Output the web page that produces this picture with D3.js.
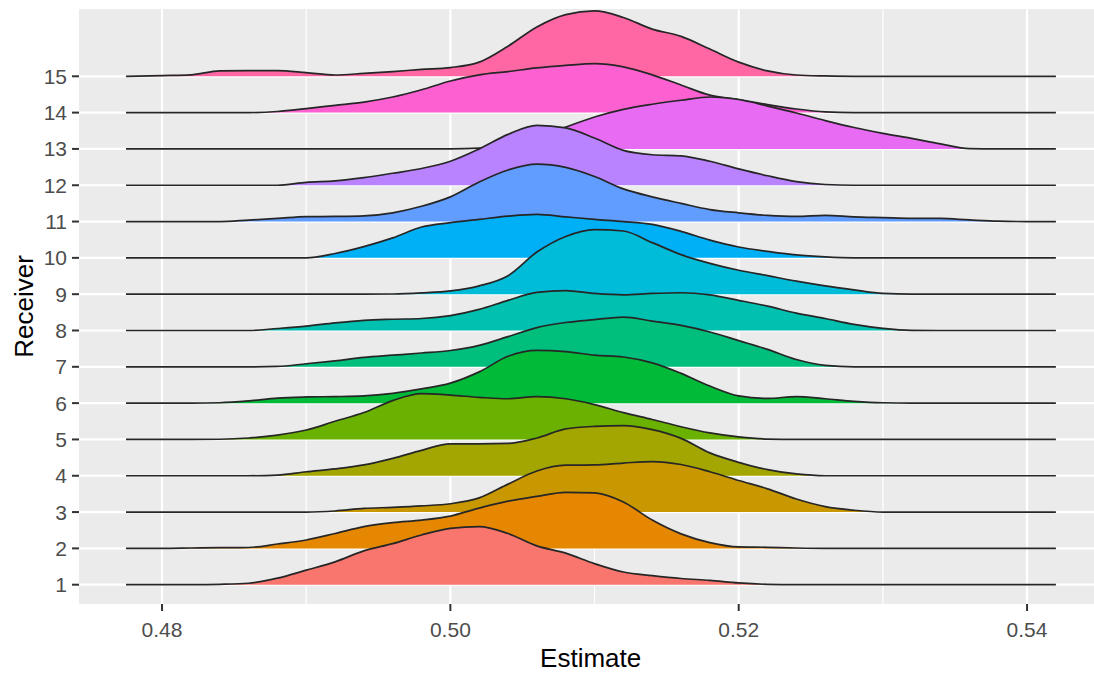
<!DOCTYPE html>
<html>
<head>
<meta charset="utf-8">
<script src="https://cdn.jsdelivr.net/npm/d3@7"></script>
<style>
  html, body { margin: 0; padding: 0; background: #ffffff; }
  svg { display: block; }
  text { font-family: "Liberation Sans", Arial, Helvetica, sans-serif; }
</style>
</head>
<body>
<svg id="chart" width="1094" height="674"></svg>
<script>
// Evaluation grid of the estimate (x) for every density ridge
const estimateGrid = [0.4775, 0.480, 0.482, 0.484, 0.486, 0.488, 0.490, 0.492, 0.494, 0.496, 0.498,
  0.500, 0.502, 0.504, 0.506, 0.508, 0.510, 0.512, 0.514, 0.516, 0.518, 0.520,
  0.522, 0.524, 0.526, 0.528, 0.530, 0.532, 0.534, 0.536, 0.538, 0.540, 0.542];

// Receiver categories (y axis, bottom to top)
const receivers = ["1", "2", "3", "4", "5", "6", "7", "8", "9", "10", "11", "12", "13", "14", "15"];

// Scaled density heights per receiver, one value per grid point
const density1  = [0, 0, 0, 0.01, 0.04, 0.18, 0.40, 0.63, 0.93, 1.13, 1.37, 1.55, 1.60, 1.41, 1.07, 0.87, 0.58, 0.35, 0.25, 0.17, 0.12, 0.05, 0.01, 0, 0, 0, 0, 0, 0, 0, 0, 0, 0];
const density2  = [0, 0, 0.01, 0.02, 0.025, 0.12, 0.23, 0.41, 0.60, 0.71, 0.78, 0.89, 1.11, 1.30, 1.43, 1.54, 1.53, 1.28, 0.78, 0.40, 0.16, 0.04, 0.03, 0.01, 0, 0, 0, 0, 0, 0, 0, 0, 0];
const density3  = [0, 0, 0, 0, 0, 0, 0, 0.03, 0.10, 0.13, 0.17, 0.23, 0.39, 0.77, 1.13, 1.29, 1.30, 1.35, 1.39, 1.31, 1.11, 0.87, 0.64, 0.36, 0.15, 0.05, 0, 0, 0, 0, 0, 0, 0];
const density4  = [0, 0, 0, 0, 0, 0.02, 0.11, 0.19, 0.30, 0.48, 0.70, 0.88, 0.88, 0.89, 1.04, 1.29, 1.36, 1.38, 1.27, 1.03, 0.63, 0.37, 0.17, 0.05, 0, 0, 0, 0, 0, 0, 0, 0, 0];
const density5  = [0, 0, 0, 0.005, 0.04, 0.12, 0.26, 0.50, 0.74, 1.07, 1.26, 1.22, 1.16, 1.12, 1.18, 1.12, 0.96, 0.74, 0.55, 0.35, 0.18, 0.07, 0.01, 0, 0, 0, 0, 0, 0, 0, 0, 0, 0];
const density6  = [0, 0, 0, 0.01, 0.06, 0.14, 0.17, 0.18, 0.20, 0.27, 0.39, 0.55, 0.86, 1.29, 1.45, 1.42, 1.32, 1.27, 1.11, 0.82, 0.47, 0.20, 0.13, 0.18, 0.12, 0.05, 0.01, 0, 0, 0, 0, 0, 0];
const density7  = [0, 0, 0, 0, 0, 0.01, 0.085, 0.165, 0.26, 0.32, 0.38, 0.45, 0.59, 0.83, 1.08, 1.22, 1.30, 1.37, 1.26, 1.14, 0.96, 0.72, 0.48, 0.20, 0.04, 0, 0, 0, 0, 0, 0, 0, 0];
const density8  = [0, 0, 0, 0, 0, 0.055, 0.12, 0.21, 0.28, 0.31, 0.33, 0.41, 0.58, 0.83, 1.05, 1.10, 1.02, 0.98, 1.02, 1.04, 0.98, 0.83, 0.67, 0.48, 0.33, 0.17, 0.06, 0.005, 0, 0, 0, 0, 0];
const density9  = [0, 0, 0, 0, 0, 0, 0, 0, 0, 0.005, 0.035, 0.09, 0.23, 0.51, 1.16, 1.59, 1.78, 1.74, 1.42, 1.09, 0.85, 0.66, 0.51, 0.36, 0.23, 0.12, 0.02, 0, 0, 0, 0, 0, 0];
const density10 = [0, 0, 0, 0, 0, 0, 0, 0.12, 0.31, 0.55, 0.85, 0.97, 1.06, 1.15, 1.20, 1.13, 1.06, 1.00, 0.92, 0.73, 0.49, 0.30, 0.18, 0.08, 0.025, 0, 0, 0, 0, 0, 0, 0, 0];
const density11 = [0, 0, 0, 0, 0.04, 0.085, 0.135, 0.14, 0.155, 0.24, 0.42, 0.68, 1.09, 1.42, 1.58, 1.49, 1.24, 0.90, 0.68, 0.50, 0.33, 0.24, 0.17, 0.14, 0.17, 0.13, 0.11, 0.09, 0.085, 0.045, 0.01, 0, 0];
const density12 = [0, 0, 0, 0, 0, 0, 0.08, 0.12, 0.21, 0.33, 0.46, 0.66, 1.00, 1.40, 1.65, 1.58, 1.30, 0.96, 0.84, 0.81, 0.66, 0.45, 0.26, 0.10, 0.02, 0, 0, 0, 0, 0, 0, 0, 0];
const density13 = [0, 0, 0, 0, 0, 0, 0, 0, 0, 0, 0, 0, 0.02, 0.10, 0.30, 0.60, 0.88, 1.09, 1.23, 1.34, 1.43, 1.36, 1.18, 0.99, 0.78, 0.59, 0.43, 0.29, 0.14, 0.01, 0, 0, 0];
const density14 = [0, 0, 0, 0, 0, 0.03, 0.11, 0.20, 0.29, 0.43, 0.63, 0.87, 1.04, 1.13, 1.23, 1.30, 1.35, 1.26, 1.04, 0.76, 0.48, 0.36, 0.22, 0.10, 0.02, 0, 0, 0, 0, 0, 0, 0, 0];
const density15 = [0, 0.02, 0.04, 0.15, 0.155, 0.155, 0.10, 0.035, 0.08, 0.13, 0.19, 0.24, 0.39, 0.83, 1.36, 1.70, 1.80, 1.62, 1.30, 1.10, 0.75, 0.39, 0.15, 0.035, 0.01, 0, 0, 0, 0, 0, 0, 0, 0];

const densities = [density1, density2, density3, density4, density5, density6, density7, density8,
  density9, density10, density11, density12, density13, density14, density15];

// Discrete hue palette, one fill per receiver
const fills = ["#F8766D", "#E58700", "#C99800", "#A3A500", "#6BB100", "#00BA38", "#00BF7D", "#00C0AF",
  "#00BCD8", "#00B0F6", "#619CFF", "#B983FF", "#E76BF3", "#FD61D1", "#FF67A4"];

// Axis ticks
const xMajorTicks = [0.48, 0.50, 0.52, 0.54];
const xMinorTicks = [0.49, 0.51, 0.53];
const xTickLabels = ["0.48", "0.50", "0.52", "0.54"];

const svg = d3.select("#chart");

const panel = { left: 79, right: 1102.3, top: 9, bottom: 604 };

const x = d3.scaleLinear().domain([0.47424, 0.54522]).range([panel.left, panel.right]);
// Continuous ridge position: receiver i sits at value i (1-based); heights add on top
const y = d3.scaleLinear().domain([0.4685, 16.853]).range([panel.bottom, panel.top]);

// Panel background
svg.append("rect")
  .attr("x", panel.left).attr("y", panel.top)
  .attr("width", panel.right - panel.left).attr("height", panel.bottom - panel.top)
  .attr("fill", "#EBEBEB");

const grid = svg.append("g");
grid.selectAll("line.minor").data(xMinorTicks).join("line")
  .attr("x1", d => x(d)).attr("x2", d => x(d))
  .attr("y1", panel.top).attr("y2", panel.bottom)
  .attr("stroke", "#ffffff").attr("stroke-width", 1.2);
grid.selectAll("line.majorx").data(xMajorTicks).join("line")
  .attr("x1", d => x(d)).attr("x2", d => x(d))
  .attr("y1", panel.top).attr("y2", panel.bottom)
  .attr("stroke", "#ffffff").attr("stroke-width", 2.2);
grid.selectAll("line.majory").data(receivers).join("line")
  .attr("x1", panel.left).attr("x2", panel.right)
  .attr("y1", (d, i) => y(i + 1)).attr("y2", (d, i) => y(i + 1))
  .attr("stroke", "#ffffff").attr("stroke-width", 2.2);

// Ridges: top receiver first so lower ridges overlap the ones above
const ridges = svg.append("g");
for (let i = receivers.length - 1; i >= 0; i--) {
  const base = i + 1;
  const pts = estimateGrid.map((e, j) => [e, densities[i][j]]);
  const area = d3.area()
    .x(d => x(d[0]))
    .y0(y(base))
    .y1(d => y(base + d[1]))
    .curve(d3.curveMonotoneX);
  const line = d3.line()
    .x(d => x(d[0]))
    .y(d => y(base + d[1]))
    .curve(d3.curveMonotoneX);
  ridges.append("path").attr("d", area(pts)).attr("fill", fills[i]).attr("stroke", "none");
  ridges.append("path").attr("d", line(pts))
    .attr("fill", "none").attr("stroke", "#262626").attr("stroke-width", 1.7)
    .attr("stroke-linejoin", "round");
}

// Y axis
const yAxis = svg.append("g");
yAxis.selectAll("line").data(receivers).join("line")
  .attr("x1", panel.left - 7).attr("x2", panel.left)
  .attr("y1", (d, i) => y(i + 1)).attr("y2", (d, i) => y(i + 1))
  .attr("stroke", "#333333").attr("stroke-width", 2);
yAxis.selectAll("text").data(receivers).join("text")
  .attr("x", panel.left - 12)
  .attr("y", (d, i) => y(i + 1) + 7.5)
  .attr("text-anchor", "end")
  .attr("font-size", 21)
  .attr("fill", "#4D4D4D")
  .text(d => d);

// X axis
const xAxis = svg.append("g");
xAxis.selectAll("line").data(xMajorTicks).join("line")
  .attr("x1", d => x(d)).attr("x2", d => x(d))
  .attr("y1", panel.bottom).attr("y2", panel.bottom + 7)
  .attr("stroke", "#333333").attr("stroke-width", 2);
xAxis.selectAll("text").data(xMajorTicks).join("text")
  .attr("x", d => x(d))
  .attr("y", 637)
  .attr("text-anchor", "middle")
  .attr("font-size", 21)
  .attr("fill", "#4D4D4D")
  .text((d, i) => xTickLabels[i]);

// Axis titles
svg.append("text")
  .attr("x", (panel.left + panel.right) / 2)
  .attr("y", 667)
  .attr("text-anchor", "middle")
  .attr("font-size", 26)
  .attr("fill", "#000000")
  .text("Estimate");

svg.append("text")
  .attr("transform", `translate(33, ${(panel.top + panel.bottom) / 2}) rotate(-90)`)
  .attr("text-anchor", "middle")
  .attr("font-size", 26)
  .attr("fill", "#000000")
  .text("Receiver");
</script>
</body>
</html>
